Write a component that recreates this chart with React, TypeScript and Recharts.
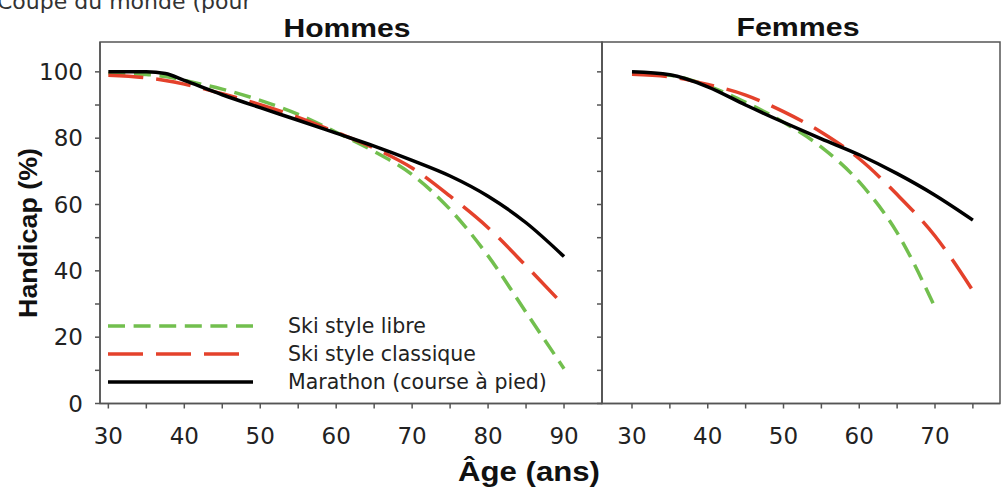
import React from 'react';
import { LineChart, Line, XAxis, YAxis, ReferenceArea, Legend } from 'recharts';

// ---- Data ----
const hommesAges = [30, 35, 37.5, 40, 45, 50, 55, 60, 65, 70, 75, 80, 85, 90];
const hommesLibre = [99.5, 99.2, 98.6, 97.4, 94.8, 91.4, 87.2, 81.8, 76, 69, 58.5, 44.5, 27.5, 10.5];
const hommesClassique = [99, 98.2, 97.4, 96.3, 93.4, 90.1, 86.3, 81.8, 77, 71, 62.5, 53, 41.5, 29.5];
const hommesMarathon = [100, 100, 99.5, 97.4, 93.1, 89.2, 85.4, 81.5, 77.6, 73.3, 68.6, 62.5, 54.5, 44.3];

const femmesAges = [30, 35, 40, 45, 50, 55, 60, 65, 70, 75];
const femmesLibre = [99.6, 99, 95.8, 90.8, 84.8, 77.3, 66.8, 51.5, 29, null];
const femmesClassique = [99.3, 98.5, 96.2, 93, 88, 81.8, 73.8, 63, 50.5, 34];
const femmesMarathon = [100, 99.1, 95.5, 90, 84.8, 79.8, 75, 69.3, 62.8, 55.3];

const hommesTicks = [30, 35, 40, 45, 50, 55, 60, 65, 70, 75, 80, 85, 90];
const femmesTicks = [30, 35, 40, 45, 50, 55, 60, 65, 70, 75];
const yTicks = [0, 10, 20, 30, 40, 50, 60, 70, 80, 90, 100];

const seriesKeys = ['libre', 'classique', 'marathon'];
const seriesNames = ['Ski style libre', 'Ski style classique', 'Marathon (course à pied)'];
const seriesColors = ['#72bf4e', '#e4412b', '#000000'];
const seriesDashes = ['17 8.6', '35 13', undefined];
const legendLengths = [145, 132, 145];

const titles = ['Hommes', 'Femmes'];

const buildRows = (ages: number[], a: (number | null)[], b: (number | null)[], c: (number | null)[]) =>
  ages.map((age, i) => ({ age, libre: a[i], classique: b[i], marathon: c[i] }));

const hommesRows = buildRows(hommesAges, hommesLibre, hommesClassique, hommesMarathon);
const femmesRows = buildRows(femmesAges, femmesLibre, femmesClassique, femmesMarathon);

// ---- Styling ----
const tickFont = { fontFamily: 'DejaVu Sans', fontSize: 23, fill: '#222' };
const axisColor = '#555';
const Y_DOMAIN: [number, number] = [0, 109];

const fmt10 = (v: number) => (v % 10 === 0 ? String(v) : '');
const fmt20 = (v: number) => (v % 20 === 0 ? String(v) : '');

const LegendContent = () => (
  <div style={{ fontFamily: 'DejaVu Sans', fontSize: 20.5, color: '#222' }}>
    {seriesNames.map((name, i) => (
      <div key={name} style={{ height: 28, display: 'flex', alignItems: 'center', whiteSpace: 'nowrap' }}>
        <svg width={180} height={28} style={{ display: 'block' }}>
          <line
            x1={0}
            x2={legendLengths[i]}
            y1={14}
            y2={14}
            stroke={seriesColors[i]}
            strokeWidth={3.5}
            strokeDasharray={seriesDashes[i]}
          />
        </svg>
        <span style={{ lineHeight: '28px' }}>{name}</span>
      </div>
    ))}
  </div>
);

const renderLines = () =>
  seriesKeys.map((k, i) => (
    <Line
      key={k}
      type="monotone"
      dataKey={k}
      name={seriesNames[i]}
      stroke={seriesColors[i]}
      strokeWidth={3.5}
      strokeDasharray={seriesDashes[i]}
      dot={false}
      activeDot={false}
      isAnimationActive={false}
      connectNulls={false}
    />
  ));

export default function App() {
  return (
    <div style={{ position: 'absolute', left: 0, top: 0, width: 1002, height: 491, background: '#fff', overflow: 'hidden' }}>
      {/* Hommes */}
      <div style={{ position: 'absolute', left: 0, top: 0 }}>
        <LineChart width={603} height={491} data={hommesRows} margin={{ top: 42, right: 1, bottom: 47.5, left: 0 }}>
          <XAxis
            dataKey="age"
            type="number"
            domain={[28.9, 95]}
            ticks={hommesTicks}
            tickFormatter={fmt10}
            interval={0}
            height={40}
            tick={tickFont}
            tickSize={5}
            tickMargin={19}
            axisLine={{ stroke: axisColor, strokeWidth: 1.5 }}
            tickLine={{ stroke: axisColor, strokeWidth: 1.5 }}
          />
          <YAxis
            type="number"
            domain={Y_DOMAIN}
            ticks={yTicks}
            tickFormatter={fmt20}
            interval={0}
            width={100}
            tick={tickFont}
            tickSize={5}
            tickMargin={12}
            axisLine={{ stroke: axisColor, strokeWidth: 1.5 }}
            tickLine={{ stroke: axisColor, strokeWidth: 1.5 }}
          />
          <ReferenceArea x1={28.9} x2={95} y1={0} y2={109} fill="none" fillOpacity={0} stroke={axisColor} strokeWidth={1.5} />
          {renderLines()}
          <Legend
            layout="vertical"
            align="center"
            verticalAlign="middle"
            content={<LegendContent />}
            wrapperStyle={{ left: 108, top: 312, width: 470, height: 84 }}
          />
        </LineChart>
      </div>

      {/* Femmes */}
      <div style={{ position: 'absolute', left: 540, top: 0 }}>
        <LineChart width={462} height={491} data={femmesRows} margin={{ top: 42, right: 2, bottom: 47.5, left: 0 }}>
          <XAxis
            dataKey="age"
            type="number"
            domain={[26.04, 78.58]}
            ticks={femmesTicks}
            tickFormatter={fmt10}
            interval={0}
            height={40}
            tick={tickFont}
            tickSize={5}
            tickMargin={19}
            axisLine={{ stroke: axisColor, strokeWidth: 1.5 }}
            tickLine={{ stroke: axisColor, strokeWidth: 1.5 }}
          />
          <YAxis
            type="number"
            domain={Y_DOMAIN}
            ticks={yTicks}
            tickFormatter={() => ''}
            interval={0}
            width={62}
            tick={tickFont}
            tickSize={5}
            axisLine={{ stroke: axisColor, strokeWidth: 1.5 }}
            tickLine={{ stroke: axisColor, strokeWidth: 1.5 }}
          />
          <ReferenceArea x1={26.04} x2={78.58} y1={0} y2={109} fill="none" fillOpacity={0} stroke={axisColor} strokeWidth={1.5} />
          {renderLines()}
        </LineChart>
      </div>

      {/* Titles and axis labels */}
      <svg width={1002} height={491} style={{ position: 'absolute', left: 0, top: 0, pointerEvents: 'none' }}>
        <text x={-3} y={9} fontFamily="DejaVu Sans" fontSize={22} fill="#333">Coupe du monde (pour</text>
        <text x={347} y={36.5} textAnchor="middle" fontFamily="Liberation Sans" fontWeight="bold" fontSize={26}
          textLength={127} lengthAdjust="spacingAndGlyphs" fill="#111">{titles[0]}</text>
        <text x={798} y={35.5} textAnchor="middle" fontFamily="Liberation Sans" fontWeight="bold" fontSize={26}
          textLength={123} lengthAdjust="spacingAndGlyphs" fill="#111">{titles[1]}</text>
        <text x={529} y={481} textAnchor="middle" fontFamily="Liberation Sans" fontWeight="bold" fontSize={27}
          textLength={142} lengthAdjust="spacingAndGlyphs" fill="#111">Âge (ans)</text>
        <text transform="translate(37,233) rotate(-90)" x={0} y={0} textAnchor="middle" fontFamily="Liberation Sans"
          fontWeight="bold" fontSize={26} textLength={170} lengthAdjust="spacingAndGlyphs" fill="#111">Handicap (%)</text>
      </svg>
    </div>
  );
}
